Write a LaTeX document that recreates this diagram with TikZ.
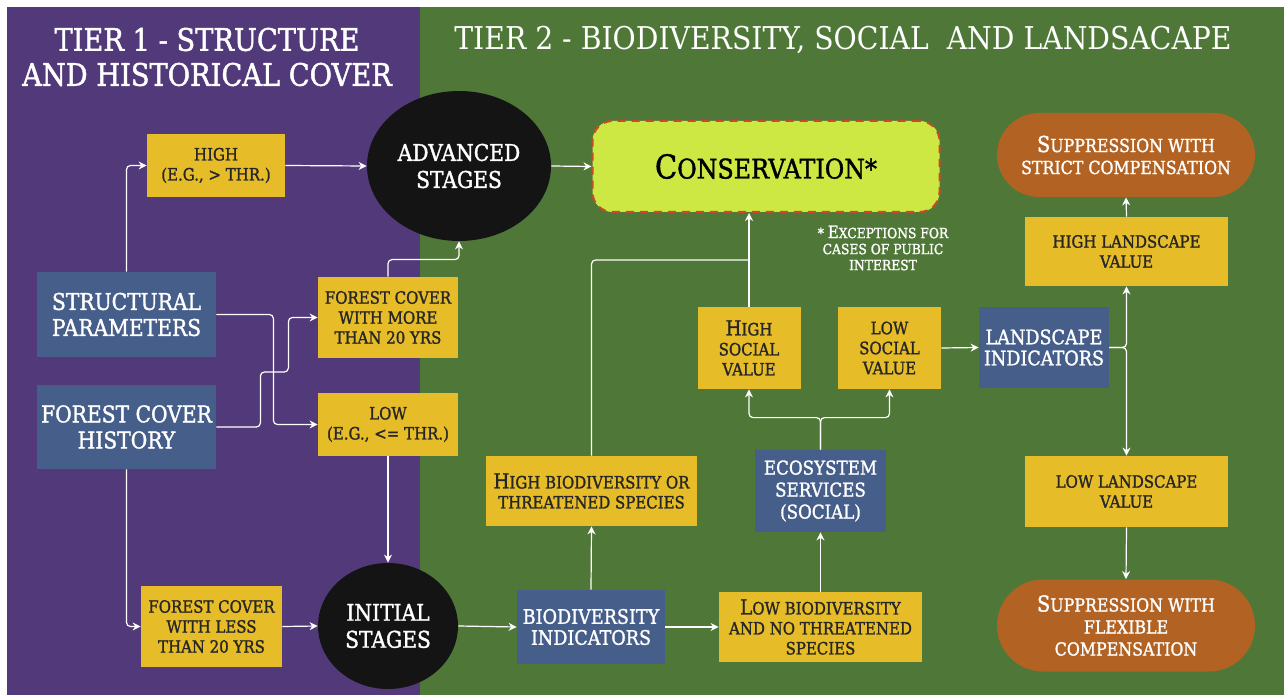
\documentclass[tikz,border=0pt]{standalone}
\usepackage{fontspec}
\setmainfont[FakeStretch=0.9, BoldFont=DejaVu Serif, BoldFeatures={FakeBold=1.4, FakeStretch=0.88}]{DejaVu Serif}
\definecolor{tierpurple}{RGB}{82, 58, 122}
\definecolor{tiergreen}{RGB}{79, 120, 56}
\definecolor{boxyellow}{RGB}{230, 188, 40}
\definecolor{boxblue}{RGB}{70, 94, 138}
\definecolor{stageblack}{RGB}{20, 20, 20}
\definecolor{conslime}{RGB}{205, 232, 66}
\definecolor{consred}{RGB}{200, 75, 40}
\definecolor{supporange}{RGB}{178, 98, 34}
\usetikzlibrary{arrows.meta, positioning, shapes.geometric, shapes.misc}
\newcommand{\bigini}[1]{\scalebox{1.22}{#1}}
\tikzset{
  tiertitle/.style={text=white, align=center, font=\bfseries\fontsize{15}{17.5}\selectfont},
  ybox/.style={fill=boxyellow, text=black!85, align=center, inner sep=0pt, font=\bfseries\fontsize{8.5}{10}\selectfont},
  bbox/.style={fill=boxblue, text=white, align=center, inner sep=0pt, font=\bfseries\fontsize{10}{10.5}\selectfont},
  stage/.style={ellipse, fill=stageblack, text=white, align=center, inner sep=0pt, font=\bfseries\fontsize{11.5}{13.5}\selectfont},
  supp/.style={rounded rectangle, fill=supporange, text=white, align=center, inner sep=0pt, font=\bfseries\fontsize{9}{11}\selectfont},
  flow/.style={draw=white, line width=0.6pt, rounded corners=2pt, -{Stealth[length=4pt, width=4pt]}},
  link/.style={draw=white, line width=0.6pt, rounded corners=2pt}
}

\begin{document}
\begin{tikzpicture}[x=0.5pt, y=-0.5pt]
  \useasboundingbox (0,0) rectangle (1284,695);
  \fill[white] (0,0) rectangle (1284,695);
  \fill[tierpurple] (7,7) rectangle (420,695);
  \fill[tiergreen] (420,7) rectangle (1284,695);

  % tier titles
  \node[tiertitle, font=\bfseries\fontsize{15.5}{17.5}\selectfont] (tier1) at (207,57) {TIER 1 - STRUCTURE\\AND HISTORICAL COVER};
  \node[tiertitle, font=\fontsize{15.7}{17.5}\selectfont] (tier2) at (843,40) {TIER 2 - BIODIVERSITY, SOCIAL\ \ AND LANDSACAPE};

  % tier 1
  \node[ybox, minimum width=69pt, minimum height=31.5pt] (high) at (216,165.5) {HIGH\\(E.G., > THR.)};
  \node[stage, minimum width=92pt, minimum height=75pt] (adv) at (459,166) {ADVANCED\\STAGES};
  \node[bbox, minimum width=89.5pt, minimum height=42.5pt, font=\bfseries\fontsize{11.5}{13}\selectfont] (struct) at (126.5,314.5) {STRUCTURAL\\PARAMETERS};
  \node[bbox, minimum width=89.5pt, minimum height=42pt, font=\bfseries\fontsize{11.5}{13}\selectfont] (hist) at (126.5,427) {FOREST COVER\\HISTORY};
  \node[ybox, minimum width=70pt, minimum height=40.5pt] (more20) at (388,317.5) {FOREST COVER\\WITH MORE\\THAN 20 YRS};
  \node[ybox, minimum width=70pt, minimum height=31.5pt] (low) at (388,424.5) {LOW\\(E.G., <= THR.)};
  \node[ybox, minimum width=70.5pt, minimum height=40.5pt] (less20) at (211.5,626.5) {FOREST COVER\\WITH LESS\\THAN 20 YRS};
  \node[stage, minimum width=70pt, minimum height=63pt] (init) at (388,626) {INITIAL\\STAGES};

  % tier 2
  \node[rectangle, rounded corners=10pt, fill=conslime, draw=consred, line width=1pt, dash pattern=on 4pt off 3pt,
        minimum width=173.5pt, minimum height=45.5pt, font=\bfseries\fontsize{13.5}{15}\selectfont] (cons) at (766,166.5) {\bigini{C}ONSERVATION*};
  \node[text=white, align=center, inner sep=0pt, font=\bfseries\fontsize{7}{8}\selectfont] (exc) at (883,248) {* \bigini{E}XCEPTIONS FOR\\CASES OF PUBLIC\\INTEREST};
  \node[ybox, minimum width=51.5pt, minimum height=41pt] (highsoc) at (749,348) {\bigini{H}IGH\\SOCIAL\\VALUE};
  \node[ybox, minimum width=51.5pt, minimum height=41pt] (lowsoc) at (889.5,348) {LOW\\SOCIAL\\VALUE};
  \node[bbox, minimum width=65pt, minimum height=40.5pt] (landind) at (1044,347.5) {LANDSCAPE\\INDICATORS};
  \node[ybox, minimum width=105.5pt, minimum height=35pt] (highbio) at (591.5,491) {\bigini{H}IGH BIODIVERSITY OR\\THREATENED SPECIES};
  \node[bbox, minimum width=65.5pt, minimum height=41pt, font=\bfseries\fontsize{9.5}{11}\selectfont] (ecos) at (820.5,491) {ECOSYSTEM\\SERVICES\\(SOCIAL)};
  \node[bbox, minimum width=74pt, minimum height=37pt] (bioind) at (591,627) {BIODIVERSITY\\INDICATORS};
  \node[ybox, minimum width=101.5pt, minimum height=35pt] (lowbio) at (820.5,627) {\bigini{L}OW BIODIVERSITY\\AND NO THREATENED\\SPECIES};
  \node[supp, minimum width=129pt, minimum height=42pt] (strict) at (1126,155) {\bigini{S}UPPRESSION WITH\\STRICT COMPENSATION};
  \node[ybox, minimum width=101.5pt, minimum height=34.5pt] (highland) at (1126.5,251.5) {HIGH LANDSCAPE\\VALUE};
  \node[ybox, minimum width=101.5pt, minimum height=35.5pt] (lowland) at (1126.5,491.5) {LOW LANDSCAPE\\VALUE};
  \node[supp, minimum width=129pt, minimum height=46pt] (flex) at (1126,625.5) {\bigini{S}UPPRESSION WITH\\FLEXIBLE\\COMPENSATION};
  \coordinate (join) at (749,260);

  % connectors
  \draw[flow] (struct.north) |- (high.west);
  \draw[flow] (high.east) -- (adv.west);
  \draw[flow] (adv.east) -- (cons.west);
  \draw[flow] (struct.east) -- ++(57,0) |- (low.west);
  \draw[flow] (hist.east) -- ++(44,0) -- ++(0,-55) -- ++(28,0) |- (more20.west);
  \draw[flow] (more20.north) -- ++(0,-17) -| (adv.south);
  \draw[flow] (low.south) -- (init.north);
  \draw[flow] (hist.south) |- (less20.west);
  \draw[flow] (less20.east) -- (init.west);
  \draw[flow] (init.east) -- (bioind.west);
  \draw[flow] (bioind.east) -- (lowbio.west);
  \draw[flow] (bioind.north) -- (highbio.south);
  \draw[link] (highbio.north) |- (join);
  \draw[flow] (highsoc.north) -- (highsoc.north |- cons.south);
  \draw[flow] (lowbio.north) -- (ecos.south);
  \draw[flow] (ecos.north) -- ++(0,-32) -| (highsoc.south);
  \draw[flow] (ecos.north) -- ++(0,-32) -| (lowsoc.south);
  \draw[flow] (lowsoc.east) -- (landind.west);
  \draw[flow] (landind.east) -| (highland.south);
  \draw[flow] (landind.east) -| (lowland.north);
  \draw[flow] (highland.north) -- (strict.south);
  \draw[flow] (lowland.south) -- (flex.north);
\end{tikzpicture}
\end{document}
